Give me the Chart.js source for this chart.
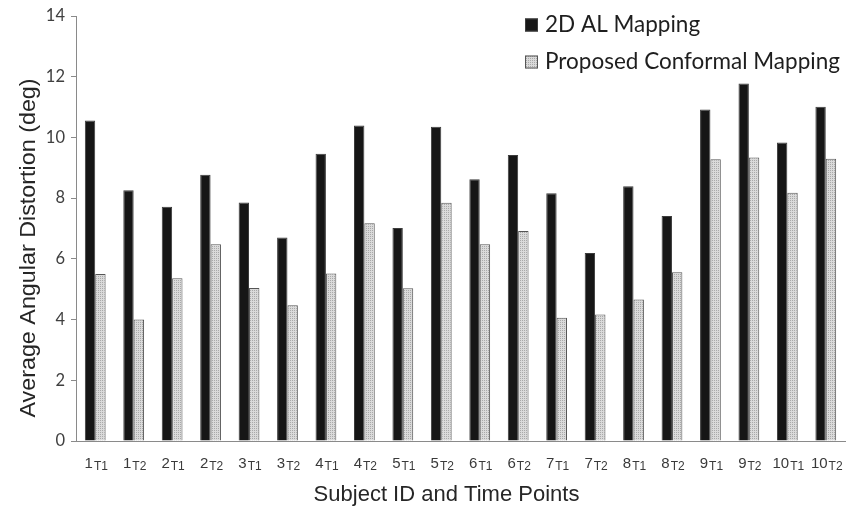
<!DOCTYPE html>
<html>
<head>
<meta charset="utf-8">
<script src="https://cdn.jsdelivr.net/npm/chart.js@4.4.1/dist/chart.umd.min.js"></script>
<style>
  html, body { margin: 0; padding: 0; background: #ffffff; }
  #wrap { width: 856px; height: 506px; position: relative; }
</style>
</head>
<body>
<div id="wrap"><canvas id="chart"></canvas></div>
<script>
// Subject IDs and the time point of each scan
const subjects   = ['1', '1', '2', '2', '3', '3', '4', '4', '5', '5', '6', '6', '7', '7', '8', '8', '9', '9', '10', '10'];
const timePoints = ['T1', 'T2', 'T1', 'T2', 'T1', 'T2', 'T1', 'T2', 'T1', 'T2', 'T1', 'T2', 'T1', 'T2', 'T1', 'T2', 'T1', 'T2', 'T1', 'T2'];

// Average angular distortion (degrees)
const alMapping        = [10.56, 8.26, 7.72, 8.77, 7.86, 6.70, 9.46, 10.39, 7.02, 10.35, 8.62, 9.42, 8.16, 6.19, 8.39, 7.41, 10.92, 11.78, 9.83, 11.01];
const conformalMapping = [5.50, 4.00, 5.36, 6.48, 5.04, 4.47, 5.52, 7.17, 5.03, 7.85, 6.48, 6.92, 4.06, 4.17, 4.66, 5.56, 9.28, 9.34, 8.18, 9.30];

// Y axis range and step
const yMin = 0, yMax = 14, yStep = 2;

// Axis titles
const xTitle = 'Subject ID and Time Points';
const yTitle = 'Average Angular Distortion (deg)';

const TEXT = '#262626';
const AXIS = '#8a8a8a';
const SANS = '"Liberation Sans", Arial, sans-serif';
const HUMANIST = 'Lato, "Open Sans", sans-serif';

// Fine stipple used for the conformal-mapping bars
function stipple() {
  const t = document.createElement('canvas');
  t.width = 2; t.height = 2;
  const g = t.getContext('2d');
  g.fillStyle = '#dadada';
  g.fillRect(0, 0, 2, 2);
  g.fillStyle = '#a9a9a9';
  g.fillRect(0, 0, 1, 1);
  return g.createPattern(t, 'repeat');
}
const dotted = stipple();

// Category labels: subject number with a subscript time point
const subscriptLabels = {
  id: 'subscriptLabels',
  afterDraw(chart) {
    const xs = chart.scales.x;
    const ctx = chart.ctx;
    const base = xs.top + 27;
    ctx.save();
    ctx.fillStyle = '#3a3a3a';
    ctx.textBaseline = 'alphabetic';
    ctx.textAlign = 'left';
    subjects.forEach((s, i) => {
      const cx = xs.getPixelForValue(i);
      ctx.font = '15px ' + SANS;
      const w1 = ctx.measureText(s).width;
      ctx.font = '12px ' + SANS;
      const w2 = ctx.measureText(timePoints[i]).width;
      const left = cx - (w1 + w2 + 1) / 2 + 1;
      ctx.font = '15px ' + SANS;
      ctx.fillText(s, left, base);
      ctx.font = '12px ' + SANS;
      ctx.fillText(timePoints[i], left + w1 + 1, base + 1.5);
    });
    ctx.restore();
  }
};

// Axis titles; the vertical one is set slightly wide
const axisTitles = {
  id: 'axisTitles',
  afterDraw(chart) {
    const ctx = chart.ctx;
    const xs = chart.scales.x;
    ctx.save();
    ctx.fillStyle = TEXT;
    ctx.textAlign = 'center';
    ctx.textBaseline = 'alphabetic';
    ctx.font = '22px ' + SANS;
    ctx.fillText(xTitle, (xs.left + xs.right) / 2 - 14, 501);

    ctx.translate(35, 248);
    ctx.rotate(-Math.PI / 2);
    ctx.scale(1.06, 1);
    ctx.fillText(yTitle, 0, 0);
    ctx.restore();
  }
};

// Legend set inside the plot, top right
const innerLegend = {
  id: 'innerLegend',
  afterDraw(chart) {
    const ctx = chart.ctx;
    const x0 = 525, rows = [25, 62], box = 13;
    ctx.save();
    ctx.font = '22.5px ' + HUMANIST;
    ctx.textBaseline = 'middle';
    ctx.textAlign = 'left';
    chart.data.datasets.forEach((ds, i) => {
      const cy = rows[i];
      ctx.fillStyle = ds.backgroundColor;
      ctx.fillRect(x0, cy - box / 2, box, box);
      ctx.strokeStyle = ds.borderColor;
      ctx.lineWidth = 1;
      ctx.strokeRect(x0 + 0.5, cy - box / 2 + 0.5, box - 1, box - 1);
      ctx.fillStyle = '#1e1e1e';
      ctx.fillText(ds.label, x0 + 20, cy);
    });
    ctx.restore();
  }
};

new Chart(document.getElementById('chart'), {
  type: 'bar',
  data: {
    labels: subjects.map((s, i) => s + timePoints[i]),
    datasets: [
      {
        label: '2D AL Mapping',
        data: alMapping,
        backgroundColor: '#161616',
        borderColor: '#3c3c3c',
        borderWidth: 1
      },
      {
        label: 'Proposed Conformal Mapping',
        data: conformalMapping,
        backgroundColor: dotted,
        borderColor: '#555555',
        borderWidth: 1
      }
    ]
  },
  options: {
    responsive: true,
    maintainAspectRatio: false,
    animation: false,
    devicePixelRatio: 1,
    layout: { padding: { top: 16, right: 11, left: 0, bottom: 0 } },
    datasets: { bar: { categoryPercentage: 0.54, barPercentage: 1.0 } },
    plugins: {
      legend: { display: false },
      tooltip: { enabled: false }
    },
    scales: {
      x: {
        grid: { display: false },
        border: { display: true, color: AXIS, width: 1 },
        ticks: { display: false },
        afterFit(scale) { scale.height = 65; }
      },
      y: {
        min: yMin,
        max: yMax,
        ticks: {
          stepSize: yStep,
          color: '#404040',
          padding: 6,
          font: { family: HUMANIST, size: 16.5 }
        },
        grid: {
          drawOnChartArea: false,
          drawTicks: true,
          tickLength: 5,
          color: AXIS
        },
        border: { display: true, color: AXIS, width: 1 },
        afterFit(scale) { scale.width = 76; }
      }
    }
  },
  plugins: [subscriptLabels, axisTitles, innerLegend]
});
</script>
</body>
</html>
